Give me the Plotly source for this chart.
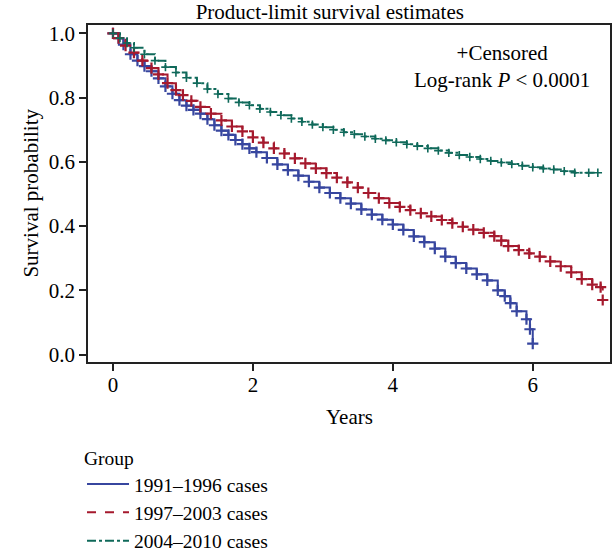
import plotly.graph_objects as go

# ---- data ----
groups = ["1991–1996 cases", "1997–2003 cases", "2004–2010 cases"]

t_9196 = [0.00, 0.08, 0.15, 0.25, 0.35, 0.45, 0.55, 0.65, 0.75, 0.85, 0.95, 1.05, 1.15, 1.25,
          1.35, 1.45, 1.55, 1.65, 1.75, 1.85, 1.95, 2.05, 2.20, 2.35, 2.50, 2.65, 2.80, 2.95,
          3.10, 3.25, 3.40, 3.55, 3.70, 3.85, 4.00, 4.15, 4.30, 4.45, 4.60, 4.75, 4.90, 5.05,
          5.20, 5.35, 5.50, 5.60, 5.68, 5.77, 5.91, 5.96, 6.00]
s_9196 = [1.000, 0.985, 0.965, 0.935, 0.915, 0.898, 0.882, 0.860, 0.835, 0.812, 0.792, 0.775,
          0.762, 0.750, 0.733, 0.714, 0.697, 0.684, 0.668, 0.655, 0.642, 0.630, 0.612, 0.592,
          0.574, 0.557, 0.538, 0.520, 0.503, 0.487, 0.470, 0.452, 0.436, 0.420, 0.405, 0.388,
          0.368, 0.350, 0.330, 0.305, 0.285, 0.268, 0.250, 0.231, 0.200, 0.182, 0.160, 0.135,
          0.110, 0.079, 0.034]

t_9703 = [0.00, 0.08, 0.18, 0.30, 0.42, 0.55, 0.65, 0.78, 0.90, 1.00, 1.12, 1.25, 1.40, 1.55,
          1.70, 1.85, 2.00, 2.15, 2.30, 2.45, 2.60, 2.75, 2.90, 3.05, 3.20, 3.35, 3.50, 3.65,
          3.80, 3.95, 4.10, 4.25, 4.40, 4.55, 4.70, 4.85, 5.00, 5.15, 5.30, 5.45, 5.55, 5.65,
          5.80, 5.95, 6.10, 6.25, 6.40, 6.55, 6.70, 6.85, 6.97, 7.00]
s_9703 = [1.000, 0.985, 0.962, 0.940, 0.915, 0.892, 0.872, 0.845, 0.823, 0.808, 0.790, 0.771,
          0.750, 0.729, 0.710, 0.695, 0.676, 0.660, 0.642, 0.626, 0.611, 0.595, 0.580, 0.565,
          0.551, 0.536, 0.520, 0.503, 0.487, 0.472, 0.460, 0.450, 0.440, 0.430, 0.419, 0.409,
          0.398, 0.389, 0.379, 0.369, 0.355, 0.338, 0.325, 0.315, 0.305, 0.290, 0.275, 0.256,
          0.235, 0.218, 0.210, 0.170]

t_0410 = [0.00, 0.10, 0.20, 0.30, 0.45, 0.60, 0.75, 0.90, 1.05, 1.20, 1.35, 1.50, 1.65, 1.80,
          1.95, 2.10, 2.25, 2.40, 2.55, 2.70, 2.85, 3.00, 3.15, 3.30, 3.45, 3.60, 3.75, 3.90,
          4.05, 4.20, 4.35, 4.50, 4.65, 4.80, 4.95, 5.10, 5.25, 5.40, 5.55, 5.70, 5.85, 6.00,
          6.15, 6.30, 6.45, 6.60, 6.80, 6.93]
s_0410 = [1.000, 0.985, 0.970, 0.955, 0.935, 0.915, 0.895, 0.878, 0.862, 0.845, 0.827, 0.811,
          0.797, 0.785, 0.776, 0.765, 0.755, 0.745, 0.735, 0.725, 0.716, 0.708, 0.700, 0.692,
          0.686, 0.679, 0.672, 0.667, 0.661, 0.655, 0.649, 0.642, 0.635, 0.628, 0.621, 0.615,
          0.609, 0.603, 0.598, 0.593, 0.588, 0.583, 0.579, 0.576, 0.571, 0.566, 0.566, 0.566]

x_ticks = [0, 2, 4, 6]
y_ticks = [0.0, 0.2, 0.4, 0.6, 0.8, 1.0]
y_ticklabels = ["0.0", "0.2", "0.4", "0.6", "0.8", "1.0"]

# ---- styling ----
FONT = "Liberation Serif, Times New Roman, serif"
FS = 21
LFS = 19.5
colors = ["#37469f", "#a5192d", "#0f695a"]
dashes = ["solid", "dash", "dashdot"]
msizes = [8, 8, 6]
mwidths = [2.2, 2.2, 1.6]

series = [(t_9196, s_9196), (t_9703, s_9703), (t_0410, s_0410)]

fig = go.Figure()
for (t, s), name, c, d in zip(series, groups, colors, dashes):
    fig.add_trace(go.Scatter(x=t, y=s, mode="lines", line_shape="hv", name=name,
                             line=dict(color=c, width=2, dash=d)))
for (t, s), name, c, ms, mw in zip(series, groups, colors, msizes, mwidths):
    fig.add_trace(go.Scatter(x=t, y=s, mode="markers", showlegend=False, name=name,
                             marker=dict(symbol="cross-thin", size=ms, color=c,
                                         line=dict(color=c, width=mw))))

axis_common = dict(showgrid=False, zeroline=False, showline=True, linecolor="#222",
                   linewidth=1.5, mirror=True, ticks="outside", ticklen=7, tickwidth=1.5,
                   tickcolor="#222", tickfont=dict(family=FONT, size=FS, color="black"),
                   automargin=False)

fig.update_xaxes(range=[-0.357, 7.104], tickvals=x_ticks, ticklabelstandoff=-4,
                 **axis_common)
fig.update_yaxes(range=[-0.023, 1.026], tickvals=y_ticks, ticktext=y_ticklabels,
                 **axis_common)

txt = dict(family=FONT, size=FS, color="black")
# axis titles
fig.add_annotation(xref="paper", yref="paper", x=0.5, y=-0.163, xanchor="center",
                   yanchor="middle", showarrow=False, text="Years", font=txt)
fig.add_annotation(xref="paper", yref="paper", x=-0.111, y=0.5, xanchor="center",
                   yanchor="middle", showarrow=False, text="Survival probability",
                   textangle=-90, font=txt)
# censor / test note
fig.add_annotation(xref="paper", yref="paper", x=0.793, y=0.958, xanchor="center",
                   yanchor="top", showarrow=False, align="center",
                   text="+Censored<br>Log-rank <i>P</i> &lt; 0.0001", font=txt)

fig.update_layout(
    width=613, height=554,
    margin=dict(l=88, r=3, t=25, b=192, autoexpand=False),
    paper_bgcolor="white", plot_bgcolor="white",
    title=dict(text="Product-limit survival estimates", x=0.538, xref="container",
               y=0.9917, yref="container", xanchor="center", yanchor="top", font=txt),
    legend=dict(title=dict(text="Group", font=dict(family=FONT, size=LFS, color="black")),
                orientation="v", xref="container", x=0.1338, xanchor="left",
                yref="container", y=0.2067, yanchor="top",
                font=dict(family=FONT, size=LFS, color="black"), bgcolor="rgba(0,0,0,0)",
                tracegroupgap=0, itemwidth=42),
    showlegend=True,
)

fig.write_html("out.html", config={"displayModeBar": False},
               post_script="document.body.style.margin='0px';")
